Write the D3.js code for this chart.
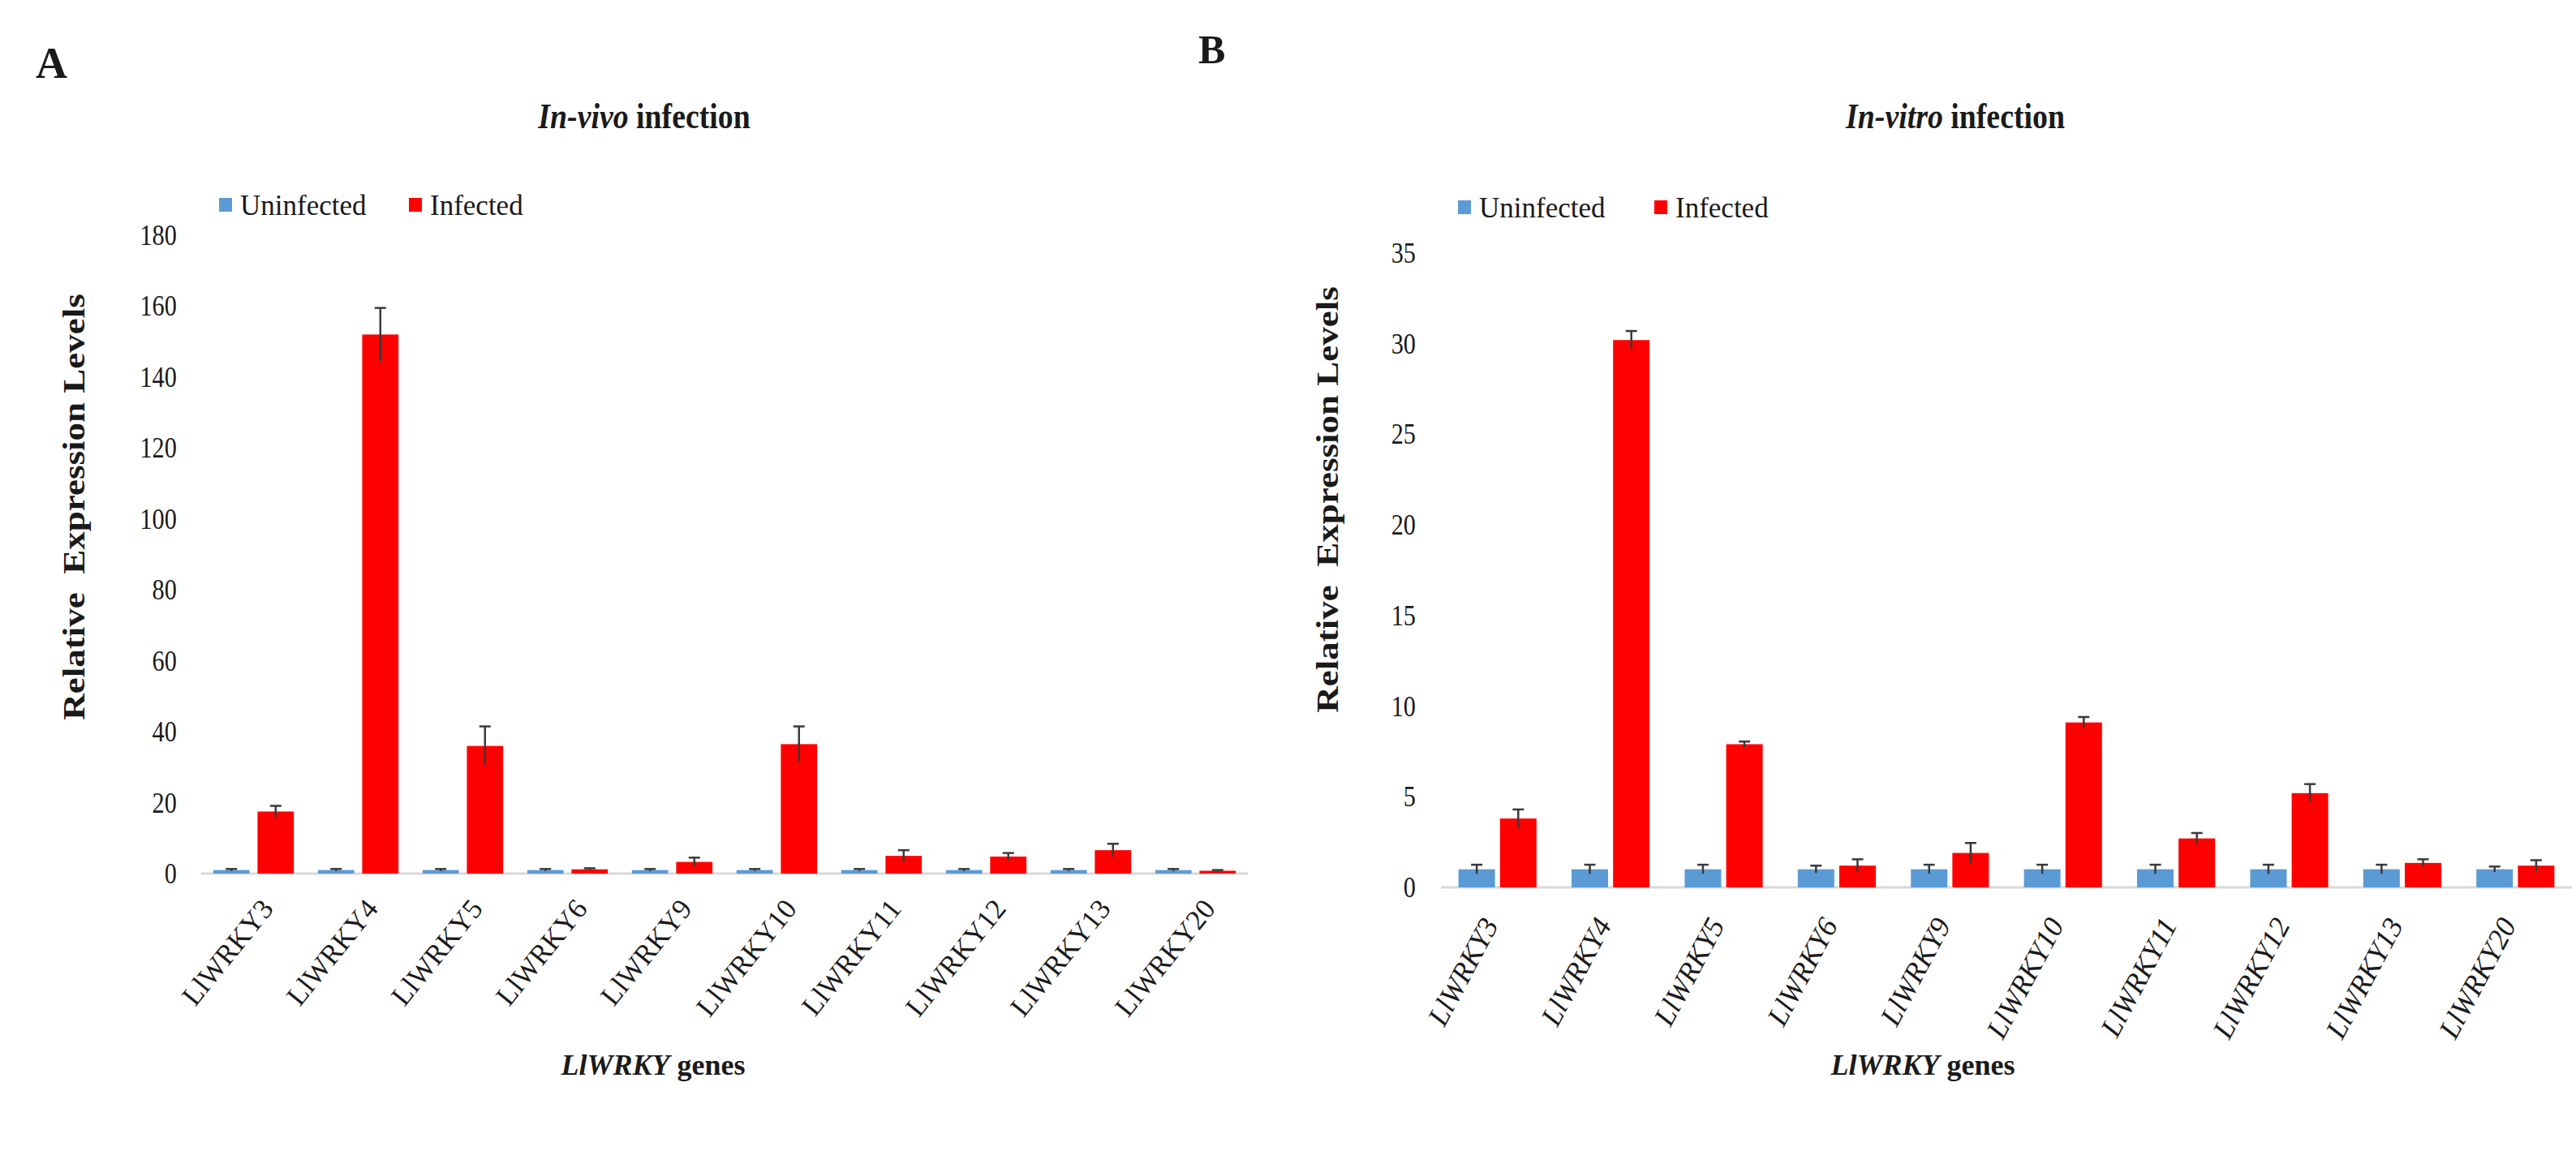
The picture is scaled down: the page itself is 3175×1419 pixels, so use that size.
<!DOCTYPE html>
<html><head><meta charset="utf-8">
<script src="https://cdn.jsdelivr.net/npm/d3@7"></script>
<style>
html,body{margin:0;padding:0;background:#fff;}
svg text{font-family:"Liberation Serif","Times New Roman",serif;fill:#1a1a1a;}
</style></head>
<body>
<svg id="chart" width="3175" height="1419"></svg>
<script>
const genes = ["LlWRKY3","LlWRKY4","LlWRKY5","LlWRKY6","LlWRKY9","LlWRKY10","LlWRKY11","LlWRKY12","LlWRKY13","LlWRKY20"];
const seriesNames = ["Uninfected","Infected"];
const seriesColors = ["#5b9bd5","#ff0000"];

// Panel A: In-vivo
const vivoUninfected = [1,1,1,1,1,1,1,1,1,1];
const vivoUninfectedErr = [0.3,0.3,0.3,0.3,0.3,0.3,0.3,0.3,0.3,0.3];
const vivoInfected = [17.5,152,36,1.2,3.3,36.5,5,4.8,6.6,0.8];
const vivoInfectedErr = [1.6,7.5,5.5,0.3,1.2,5,1.6,1,1.8,0.2];
const vivoTicks = [0,20,40,60,80,100,120,140,160,180];

// Panel B: In-vitro
const vitroUninfected = [1,1,1,1,1,1,1,1,1,1];
const vitroUninfectedErr = [0.25,0.25,0.25,0.2,0.25,0.25,0.25,0.25,0.25,0.15];
const vitroInfected = [3.8,30.2,7.9,1.2,1.9,9.1,2.7,5.2,1.35,1.2];
const vitroInfectedErr = [0.5,0.5,0.15,0.35,0.55,0.3,0.3,0.5,0.2,0.3];
const vitroTicks = [0,5,10,15,20,25,30,35];

const svg = d3.select("#chart");
const SX = 0.84; // horizontal condensing of the reference lettering

function panel(cfg){
  const g = svg.append("g");
  const x = d3.scaleBand().domain(genes).range([cfg.x0, cfg.x1]).paddingInner(cfg.pIn).paddingOuter(cfg.pIn/2);
  const xs = d3.scaleBand().domain(seriesNames).range([0, x.bandwidth()]).paddingInner(cfg.pSub);
  const y = d3.scaleLinear().domain([0, cfg.ymax]).range([cfg.y0, cfg.y1]);

  // y axis (labels only)
  const ya = g.append("g").attr("transform", `translate(${cfg.x0},0)`)
    .call(d3.axisLeft(y).tickValues(cfg.ticks).tickSize(0).tickPadding(cfg.tickPad));
  ya.select(".domain").remove();
  ya.selectAll("text").style("font-family","Liberation Serif, serif").style("font-size","36px")
    .attr("fill","#333").attr("transform", `scale(${SX},1)`);

  // baseline
  g.append("line").attr("x1", cfg.x0).attr("x2", cfg.x1).attr("y1", y(0)).attr("y2", y(0))
    .attr("stroke","#d9d9d9").attr("stroke-width",3);

  const data = [];
  genes.forEach((gn,i)=>{
    data.push({gene:gn, s:"Uninfected", v:cfg.u[i], e:cfg.ue[i], c:seriesColors[0]});
    data.push({gene:gn, s:"Infected", v:cfg.inf[i], e:cfg.ie[i], c:seriesColors[1]});
  });

  g.selectAll("rect.bar").data(data).enter().append("rect").attr("class","bar")
    .attr("x", d=>x(d.gene)+xs(d.s)).attr("width", xs.bandwidth())
    .attr("y", d=>y(d.v)).attr("height", d=>y(0)-y(d.v)).attr("fill", d=>d.c);

  // error bars
  const cx = d=>x(d.gene)+xs(d.s)+xs.bandwidth()/2;
  const eb = g.selectAll("g.err").data(data).enter().append("g").attr("class","err")
    .attr("stroke","#3a3a3a").attr("stroke-width",2.5);
  eb.append("line").attr("x1", cx).attr("x2", cx)
    .attr("y1", d=>y(d.v-d.e)).attr("y2", d=>y(d.v+d.e));
  eb.append("line").attr("x1", d=>cx(d)-7).attr("x2", d=>cx(d)+7)
    .attr("y1", d=>y(d.v+d.e)).attr("y2", d=>y(d.v+d.e));

  // category labels
  g.selectAll("text.cat").data(genes).enter().append("text").attr("class","cat")
    .attr("transform", d=>`translate(${x(d)+x.bandwidth()/2+cfg.catDx},${y(0)+cfg.catDy}) rotate(${cfg.rot})`)
    .attr("text-anchor","end")
    .style("font-size", cfg.catSize+"px").style("font-style", cfg.italicCats ? "italic" : "normal")
    .attr("fill","#333")
    .text(d=>d);

  // legend
  const lg = g.append("g").attr("transform", `translate(${cfg.legX},${cfg.legY})`);
  seriesNames.forEach((s,i)=>{
    const ox = i===0 ? 0 : cfg.legGap;
    lg.append("rect").attr("x", ox).attr("y", -9).attr("width",16).attr("height",17).attr("fill", seriesColors[i]);
    lg.append("text").attr("x", ox+26).attr("y", 12).style("font-size","35px").attr("fill","#333").text(s);
  });

  // title
  const tg = g.append("g").attr("transform", `translate(${cfg.titleX},158) scale(${SX},1)`);
  const t = tg.append("text").attr("text-anchor","middle")
    .style("font-size","45px").style("font-weight","bold");
  t.append("tspan").style("font-style","italic").text(cfg.titleIt);
  t.append("tspan").text(" infection");

  // y axis title
  g.append("text").attr("transform", `translate(${cfg.yLabX},${cfg.yLabY}) rotate(-90) scale(1,${SX})`).attr("text-anchor","middle")
    .attr("dy","0.35em")
    .style("font-size","45px").style("font-weight","bold").style("white-space","pre")
    .text("Relative  Expression Levels");

  // x axis title
  const xt = g.append("text").attr("x", cfg.xTitleX).attr("y", 1325).attr("text-anchor","middle")
    .style("font-size","36px").style("font-weight","bold");
  xt.append("tspan").style("font-style","italic").text("LlWRKY");
  xt.append("tspan").text(" genes");

  // panel letter
  svg.append("text").attr("x", cfg.letX).attr("y", cfg.letY).style("font-size", cfg.letSize+"px").style("font-weight","bold").text(cfg.letter);
}

panel({x0:248, x1:1538, y0:1077, y1:290, ymax:180, ticks:vivoTicks, pIn:0.23, pSub:0.18, tickPad:36,
  u:vivoUninfected, ue:vivoUninfectedErr, inf:vivoInfected, ie:vivoInfectedErr,
  rot:-51, catSize:35, italicCats:false, catDx:26, catDy:44, legX:270, legY:253, legGap:234,
  titleX:794, titleIt:"In-vivo", yLabX:91, yLabY:625, xTitleX:805,
  letter:"A", letX:44, letY:96, letSize:54});

panel({x0:1776, x1:3170, y0:1094, y1:312, ymax:35, ticks:vitroTicks, pIn:0.31, pSub:0.12, tickPad:37,
  u:vitroUninfected, ue:vitroUninfectedErr, inf:vitroInfected, ie:vitroInfectedErr,
  rot:-62, catSize:36, italicCats:true, catDx:2, catDy:46, legX:1797, legY:256, legGap:242,
  titleX:2410, titleIt:"In-vitro", yLabX:1636, yLabY:616, xTitleX:2370,
  letter:"B", letX:1477, letY:78, letSize:50});
</script>
</body></html>
